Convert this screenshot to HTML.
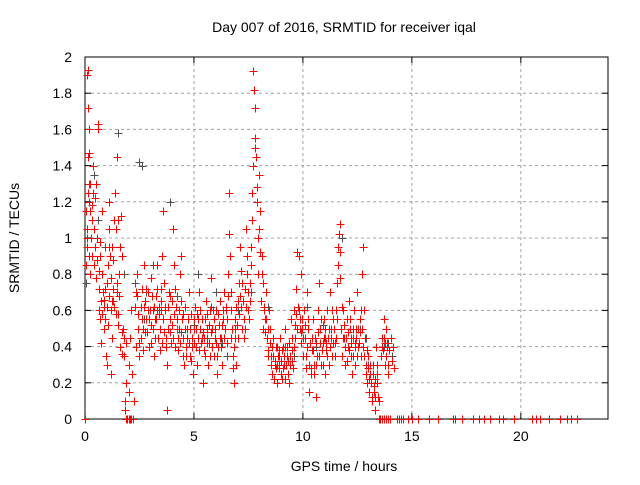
<!DOCTYPE html>
<html><head><meta charset="utf-8"><style>
body{margin:0;background:#fff;font-family:"Liberation Sans",sans-serif}
svg text{font-family:"Liberation Sans",sans-serif;font-size:14px;fill:#000}
</style></head><body>
<svg id="chart" width="640" height="480" xmlns="http://www.w3.org/2000/svg">
<rect width="640" height="480" fill="#fff"/>
<g id="grid"></g>
<g id="axes"></g>
<g id="grey"></g>
<g id="red"></g>
<text x="344" y="32" text-anchor="middle">Day 007 of 2016, SRMTID for receiver iqal</text>
<text x="344" y="471" text-anchor="middle">GPS time / hours</text>
<text transform="translate(19,238) rotate(-90)" text-anchor="middle">SRMTID / TECUs</text>
</svg>
<script>
const xTicks=[0,5,10,15,20];
const yTicks=[0,0.2,0.4,0.6,0.8,1,1.2,1.4,1.6,1.8,2];
const yTickLabels=["0","0.2","0.4","0.6","0.8","1","1.2","1.4","1.6","1.8","2"];
const redPts=[
0.02,0,0.05,0.85,0.08,1.05,0.1,1.9,0.12,1.72,0.15,1.93,0.18,1.6,0.2,1.47,0.22,1.3,0.25,1.15,0.28,1.0,0.3,0.9,0.05,1.15,0.07,0.95,0.12,1.25,0.15,1.45,0.2,1.2,0.25,0.8,0.3,1.1,0.35,1.25,0.38,1.4,0.4,0.85,0.42,1.05,0.45,0.95,0.5,1.3,0.52,0.78,0.55,1.0,0.58,1.6,0.6,1.63,0.62,0.6,0.65,0.72,0.68,0.9,0.7,0.55,0.72,0.42,0.75,0.65,0.78,0.8,0.8,1.15,0.82,0.7,0.85,0.5,0.88,0.62,0.9,0.55,0.95,0.35,1.0,0.3,1.02,0.75,1.05,0.85,1.08,0.95,1.1,1.2,1.12,1.05,1.15,0.9,1.18,0.6,1.2,0.25,1.22,0.45,1.25,0.65,1.28,0.72,1.3,0.88,1.35,1.1,1.38,1.25,1.4,1.05,1.45,1.45,1.48,0.7,1.5,0.52,1.52,0.58,1.55,0.8,1.6,0.95,1.65,1.12,1.7,0.9,1.75,0.5,1.8,0.35,1.82,0.05,1.85,0.1,1.88,0,1.9,0.2,1.95,0,2.0,0.3,2.02,0.15,2.05,0.45,2.1,0.6,2.15,0.25,2.2,0,2.25,0.1,2.3,0.62,2.32,0.7,2.35,0.4,2.4,0.8,2.42,0.5,2.45,0.58,2.5,0.35,2.55,0.45,2.6,0.72,2.65,0.5,2.7,0.85,2.72,0.62,2.75,0.65,2.8,0.55,2.85,0.48,2.9,0.7,2.95,0.4,3.0,0.6,3.02,0.52,3.05,0.78,3.1,0.6,3.15,0.35,3.2,0.55,3.25,0.68,3.3,0.85,3.35,0.45,3.4,0.62,3.45,0.5,3.5,0.72,3.55,0.9,3.6,1.15,3.62,0.75,3.65,0.6,3.7,0.45,3.75,0.3,3.78,0.05,3.8,0.5,3.85,0.7,3.9,0.55,3.95,0.42,4.0,0.65,4.05,1.05,4.1,0.85,4.15,0.72,4.2,0.5,4.25,0.38,4.3,0.6,4.35,0.8,4.4,0.9,4.45,0.55,4.5,0.45,4.55,0.3,4.6,0.62,4.65,0.4,4.7,0.5,4.75,0.7,4.8,0.35,4.85,0.58,4.9,0.45,4.95,0.25,5.0,0.5,5.05,0.62,5.1,0.4,5.15,0.3,5.2,0.55,5.25,0.7,5.3,0.6,5.35,0.45,5.4,0.2,5.45,0.38,5.5,0.55,5.55,0.65,5.6,0.5,5.65,0.3,5.7,0.42,5.75,0.6,5.8,0.78,5.85,0.5,5.9,0.35,5.95,0.45,6.0,0.6,6.05,0.25,6.1,0.4,6.15,0.52,6.2,0.65,6.25,0.45,6.3,0.3,6.35,0.55,6.4,0.7,6.45,0.6,6.5,0.42,6.55,0.8,6.6,1.02,6.62,1.25,6.65,0.9,6.7,0.7,6.75,0.5,6.8,0.35,6.85,0.2,6.9,0.55,6.95,0.62,7.0,0.45,7.05,0.75,7.1,0.95,7.15,0.82,7.2,0.5,7.25,0.65,7.3,0.55,7.35,0.72,7.4,1.05,7.45,0.9,7.5,0.6,7.55,0.75,7.6,0.95,7.65,1.25,7.7,1.4,7.72,1.92,7.75,1.82,7.78,1.72,7.8,1.55,7.82,1.5,7.85,1.45,7.9,1.2,7.92,1.0,7.95,0.8,8.0,1.35,8.05,1.15,8.1,0.9,8.15,0.75,8.2,0.6,8.25,0.55,8.3,0.7,8.35,0.45,8.4,0.38,8.45,0.6,8.5,0.5,8.55,0.35,8.6,0.25,8.65,0.45,8.7,0.3,8.75,0.4,8.8,0.2,8.85,0.35,8.9,0.28,8.95,0.45,9.0,0.32,9.05,0.22,9.1,0.4,9.15,0.3,9.2,0.5,9.25,0.35,9.3,0.25,9.35,0.42,9.4,0.3,9.45,0.55,9.5,0.38,9.55,0.28,9.6,0.6,9.65,0.45,9.7,0.72,9.75,0.92,9.8,0.9,9.82,0.6,9.85,0.5,9.9,0.8,9.95,0.55,10.0,0.35,10.05,0.6,10.1,0.45,10.15,0.28,10.2,0.7,10.25,0.5,10.3,0.15,10.35,0.25,10.4,0.38,10.45,0.55,10.5,0.3,10.55,0.45,10.6,0.12,10.65,0.35,10.7,0.6,10.75,0.75,10.8,0.5,10.85,0.3,10.9,0.42,10.95,0.55,11.0,0.25,11.05,0.38,11.1,0.6,11.15,0.45,11.2,0.3,11.25,0.7,11.3,0.5,11.35,0.35,11.4,0.55,11.45,0.42,11.5,0.6,11.55,0.75,11.6,0.85,11.62,0.95,11.65,1.02,11.7,1.08,11.72,0.78,11.75,0.5,11.8,0.35,11.85,0.6,11.9,0.45,11.95,0.3,12.0,0.55,12.05,0.4,12.1,0.65,12.15,0.5,12.2,0.35,12.25,0.25,12.3,0.45,12.35,0.6,12.4,0.3,12.45,0.5,12.5,0.7,12.55,0.4,12.6,0.55,12.65,0.35,12.7,0.8,12.75,0.95,12.8,0.6,12.85,0.45,12.9,0.3,12.95,0.2,13.0,0.35,13.05,0.15,13.1,0.25,13.15,0.1,13.2,0.3,13.25,0.18,13.3,0.05,13.35,0.4,13.4,0.25,13.45,0.12,13.5,0,13.6,0.35,13.65,0.45,13.7,0.55,13.75,0.3,13.8,0.5,13.85,0.42,13.9,0.25,13.95,0.38,14.0,0,14.05,0.45,14.1,0.32,14.2,0.28,14.3,0,14.5,0,14.8,0,15.3,0,15.8,0,16.2,0,16.9,0,17.3,0,17.8,0,18.1,0,18.6,0,19.0,0,19.7,0,20.5,0,20.9,0,21.3,0,21.8,0,22.1,0,22.6,0
];
const redPts2=[
0.1,1.0,0.18,0.9,0.32,1.18,0.45,1.22,0.55,0.88,0.62,0.82,0.7,0.98,0.78,0.58,0.85,0.66,0.92,0.72,1.0,0.62,1.05,0.52,1.12,0.68,1.18,0.78,1.25,0.95,1.32,0.62,1.4,0.58,1.45,0.75,1.52,1.1,1.58,0.68,1.62,0.4,1.68,0.48,1.72,0.36,1.78,0.45,1.9,0.42,2.0,0,2.08,0,2.12,0,2.4,0.68,2.48,0.42,2.55,0.62,2.62,0.55,2.68,0.38,2.75,0.48,2.82,0.72,2.88,0.6,2.95,0.55,3.02,0.42,3.08,0.68,3.12,0.5,3.18,0.62,3.22,0.45,3.28,0.55,3.32,0.72,3.38,0.58,3.42,0.38,3.48,0.65,3.52,0.42,3.58,0.55,3.62,0.48,3.68,0.62,3.72,0.4,3.82,0.62,3.88,0.48,3.92,0.68,3.98,0.52,4.02,0.45,4.08,0.58,4.12,0.4,4.18,0.62,4.22,0.55,4.28,0.45,4.32,0.5,4.38,0.42,4.42,0.65,4.48,0.35,4.52,0.58,4.58,0.5,4.62,0.35,4.68,0.45,4.72,0.55,4.78,0.42,4.82,0.5,4.88,0.32,4.92,0.4,4.98,0.55,5.02,0.42,5.08,0.5,5.12,0.58,5.18,0.45,5.22,0.38,5.28,0.5,5.32,0.42,5.38,0.55,5.42,0.48,5.48,0.45,5.52,0.35,5.58,0.42,5.62,0.58,5.68,0.52,5.72,0.35,5.78,0.48,5.82,0.4,5.88,0.6,5.92,0.55,5.98,0.5,6.02,0.42,6.08,0.35,6.12,0.58,6.18,0.45,6.22,0.4,6.28,0.52,6.32,0.6,6.38,0.45,6.42,0.5,6.48,0.62,6.52,0.55,6.58,0.68,6.68,0.6,6.72,0.45,6.78,0.28,6.82,0.4,6.88,0.5,6.92,0.3,6.98,0.52,7.02,0.65,7.08,0.58,7.12,0.68,7.18,0.62,7.22,0.75,7.28,0.45,7.32,0.5,7.38,0.62,7.42,0.8,7.48,0.7,7.52,0.55,7.58,0.65,7.62,0.85,7.68,1.1,7.88,1.28,7.98,1.05,8.02,0.92,8.08,0.65,8.12,0.8,8.18,0.5,8.22,0.62,8.28,0.48,8.32,0.55,8.38,0.35,8.42,0.5,8.48,0.42,8.52,0.3,8.58,0.4,8.62,0.35,8.68,0.22,8.72,0.32,8.78,0.28,8.82,0.4,8.88,0.3,8.92,0.35,8.98,0.25,9.02,0.38,9.08,0.28,9.12,0.35,9.18,0.22,9.22,0.3,9.28,0.4,9.32,0.32,9.38,0.2,9.42,0.35,9.48,0.45,9.52,0.32,9.58,0.4,9.62,0.52,9.68,0.58,9.72,0.5,9.78,0.62,9.88,0.55,9.92,0.42,9.98,0.5,10.02,0.45,10.08,0.52,10.12,0.35,10.18,0.4,10.22,0.55,10.28,0.3,10.32,0.42,10.38,0.28,10.42,0.45,10.48,0.38,10.52,0.25,10.58,0.3,10.62,0.42,10.68,0.48,10.72,0.35,10.78,0.42,10.82,0.55,10.88,0.38,10.92,0.3,10.98,0.45,11.02,0.5,11.08,0.42,11.12,0.35,11.18,0.5,11.22,0.4,11.28,0.45,11.32,0.6,11.38,0.42,11.42,0.5,11.48,0.35,11.52,0.45,11.58,0.55,11.68,0.92,11.78,0.62,11.82,0.45,11.88,0.52,11.92,0.4,11.98,0.45,12.02,0.32,12.08,0.48,12.12,0.38,12.18,0.55,12.22,0.42,12.28,0.35,12.32,0.5,12.38,0.4,12.42,0.45,12.48,0.35,12.52,0.5,12.58,0.42,12.62,0.48,12.68,0.6,12.72,0.5,12.78,0.4,12.82,0.35,12.88,0.25,12.92,0.38,12.98,0.28,13.02,0.22,13.08,0.3,13.12,0.2,13.18,0.12,13.22,0.25,13.28,0.15,13.32,0.22,13.38,0.3,13.42,0.2,13.48,0.1,13.55,0,13.62,0.4,13.68,0.38,13.72,0.45,13.78,0.42,13.82,0.35,13.88,0.4,13.92,0.3,14.12,0.4,13.62,0,13.7,0,13.8,0,13.9,0,14.4,0,14.6,0,15.0,0,17.0,0,18.3,0,19.2,0,20.7,0,22.3,0
];
const greyPts=[
0.05,0.75,0.2,1.3,0.4,1.35,0.6,1.1,0.9,0.95,1.3,0.65,1.5,1.58,1.8,0.8,2.3,0.75,2.5,1.42,2.6,1.4,2.8,0.7,3.1,0.85,3.5,0.6,3.9,1.2,4.2,0.68,4.6,0.5,5.2,0.8,5.6,0.45,6.0,0.7,6.5,0.35,7.0,0.6,7.3,0.55,7.6,0.7,8.0,1.35,8.4,0.62,8.8,0.3,9.2,0.4,9.6,0.35,10.2,0.62,10.6,0.4,11.0,0.45,11.4,0.55,11.8,1.0,12.2,0.45,12.6,0.5,13.0,0.3,13.3,0.12,13.7,0.4,14.1,0.35,
2.7,0.55,3.3,0.6,4.4,0.48,5.0,0.52,5.8,0.62,6.3,0.42,6.9,0.45,8.9,0.38,9.4,0.3,9.9,0.48,10.9,0.52,12.4,0.42,12.9,0.45,13.9,0.42
];
const X0=85,X1=608,Y0=419,Y1=57;
const xs=t=>X0+t*(X1-X0)/24;
const ys=v=>Y0-v*(Y0-Y1)/2;
const NS="http://www.w3.org/2000/svg";
function mk(tag,attrs,parent){const e=document.createElementNS(NS,tag);for(const k in attrs)e.setAttribute(k,attrs[k]);parent.appendChild(e);return e;}
const grid=document.getElementById('grid'),axes=document.getElementById('axes');
yTicks.forEach((v,i)=>{
 const y=ys(v);
 if(i>0&&i<yTicks.length-1){const g=mk('line',{x1:X0,x2:X1,y1:y,y2:y,stroke:'#a0a0a0','stroke-dasharray':'3,3'},grid);}
 const t=mk('line',{x1:X0,x2:X0+6,y1:y,y2:y,stroke:'#000'},axes);
 const t2=mk('line',{x1:X1,x2:X1-6,y1:y,y2:y,stroke:'#000'},axes);
 const l=mk('text',{x:X0-13,y:y+5,'text-anchor':'end'},axes);l.textContent=yTickLabels[i];
 
});
xTicks.forEach(v=>{
 const x=xs(v);
 if(v>0){const g=mk('line',{x1:x,x2:x,y1:Y1,y2:Y0,stroke:'#a0a0a0','stroke-dasharray':'3,3'},grid);}
 const t=mk('line',{x1:x,x2:x,y1:Y0,y2:Y0-6,stroke:'#000'},axes);
 const t2=mk('line',{x1:x,x2:x,y1:Y1,y2:Y1+6,stroke:'#000'},axes);
 const l=mk('text',{x:x,y:Y0+22,'text-anchor':'middle'},axes);l.textContent=String(v);
 
});
const fr=mk('rect',{x:X0,y:Y1,width:X1-X0,height:Y0-Y1,fill:'none',stroke:'#000'},axes);

function plus(arr,g,col,nm){
 let d='';
 for(let i=0;i<arr.length;i+=2){const x=Math.round(xs(arr[i]))+0.5,y=Math.round(ys(arr[i+1]))+0.5;d+=`M${x-4},${y}h8M${x},${y-4}v8`;}
 const p=mk('path',{d:d,stroke:col,'stroke-width':1,fill:'none'},document.getElementById(g));
 
 
}
plus(greyPts,'grey','#505050','grey-points');
plus(redPts,'red','#ff0000','red-points');
plus(redPts2,'red','#ff0000','red-points-extra');
</script>
</body></html>
